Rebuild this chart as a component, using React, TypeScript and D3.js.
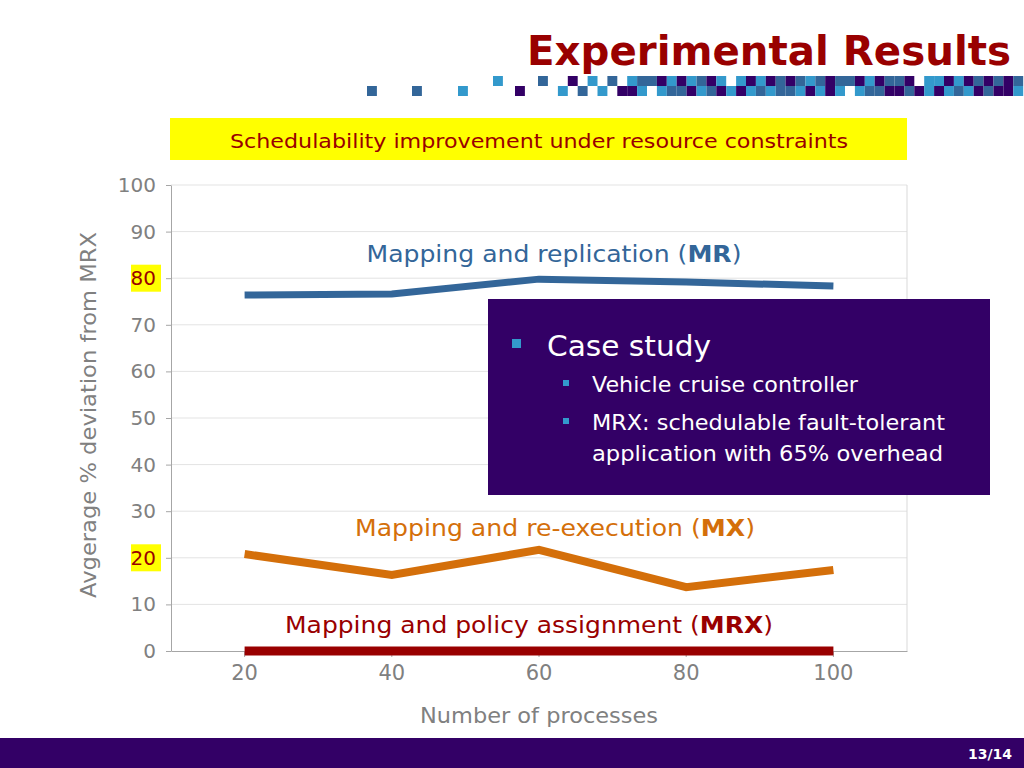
import { useEffect, useRef } from 'react';
import * as d3 from 'd3';

const categories = ['20', '40', '60', '80', '100'];
const mrValues = [76.4, 76.6, 79.8, 79.2, 78.3];
const mxValues = [20.8, 16.3, 21.7, 13.7, 17.4];
const mrxValues = [0, 0, 0, 0, 0];
const yTicks = [0, 10, 20, 30, 40, 50, 60, 70, 80, 90, 100];
const highlightedTicks = [20, 80];

// decorative square strip under the title (a = steel, b = light blue, c = purple)
const stripRow1 = '..c.b.a.baacbcbacb.bcbcacabacaacbcaac.bbcbcacaca';
const stripRow2 = '.b.a.b.ccb.baacbacbcbabaabcbcb.baaccacbcbabcaccb';
const stripColors: Record<string, string> = { a: '#336699', b: '#3399cc', c: '#330066' };

function Chart() {
    const chartRef = useRef<SVGSVGElement>(null);

    useEffect(() => {
        document.body.style.margin = '0';
        drawChart();
    }, []);

    function drawChart() {
        const svg = d3.select(chartRef.current);
        svg.selectAll('*').remove();
        const font = 'DejaVu Sans, Verdana, sans-serif';

        // title
        svg.append('text')
            .attr('x', 527).attr('y', 65)
            .attr('font-family', font).attr('font-weight', 'bold')
            .attr('font-size', 40).attr('fill', '#990000')
            .attr('textLength', 484).attr('lengthAdjust', 'spacingAndGlyphs')
            .text('Experimental Results');

        // square strip
        const sparse = [
            { x: 367, row: 1, c: 'a' }, { x: 412, row: 1, c: 'a' }, { x: 458, row: 1, c: 'b' },
            { x: 493, row: 0, c: 'b' }, { x: 515, row: 1, c: 'c' }, { x: 538, row: 0, c: 'a' },
        ];
        const cells: { x: number; row: number; c: string }[] = [...sparse];
        [stripRow1, stripRow2].forEach((row, r) => {
            row.split('').forEach((c, i) => {
                if (c !== '.') cells.push({ x: 548 + i * 9.9, row: r, c });
            });
        });
        svg.append('g').selectAll('rect').data(cells).enter().append('rect')
            .attr('x', (d) => d.x).attr('y', (d) => 76 + d.row * 10)
            .attr('width', 9.9).attr('height', 10)
            .attr('fill', (d) => stripColors[d.c]);

        // yellow banner
        svg.append('rect').attr('x', 170).attr('y', 118).attr('width', 737).attr('height', 42).attr('fill', '#ffff00');
        svg.append('text')
            .attr('x', 539).attr('y', 148).attr('text-anchor', 'middle')
            .attr('font-family', font).attr('font-size', 20).attr('fill', '#990000')
            .attr('textLength', 618).attr('lengthAdjust', 'spacingAndGlyphs')
            .text('Schedulability improvement under resource constraints');

        const x = d3.scaleBand().domain(categories).range([171, 907]);
        const y = d3.scaleLinear().domain([0, 100]).range([651, 185]);
        const cx = (c: string) => (x(c) as number) + x.bandwidth() / 2;

        // gridlines and border
        svg.append('g').selectAll('line').data(yTicks.slice(1)).enter().append('line')
            .attr('x1', 171).attr('x2', 907)
            .attr('y1', (d) => y(d)).attr('y2', (d) => y(d))
            .attr('stroke', '#e3e3e3').attr('stroke-width', 1);
        svg.append('line').attr('x1', 907).attr('x2', 907).attr('y1', y(100)).attr('y2', y(0))
            .attr('stroke', '#d9d9d9');

        // axes
        const yAxis = svg.append('g')
            .attr('transform', 'translate(171,0)')
            .call(d3.axisLeft(y).tickValues(yTicks).tickSize(5).tickSizeOuter(0).tickPadding(10));
        yAxis.select('.domain').attr('stroke', '#a6a6a6');
        yAxis.selectAll('.tick line').attr('stroke', '#a6a6a6');
        yAxis.selectAll('.tick').each(function (d: any) {
            const g = d3.select(this);
            if (highlightedTicks.includes(d)) {
                g.insert('rect', 'text').attr('x', -40).attr('y', -14).attr('width', 30).attr('height', 27).attr('fill', '#ffff00');
            }
        });
        yAxis.selectAll('.tick text')
            .attr('font-family', font).attr('font-size', 20)
            .attr('fill', (d: any) => (highlightedTicks.includes(d) ? '#990000' : '#808080'));

        const xAxis = svg.append('g')
            .attr('transform', `translate(0,${y(0)})`)
            .call(d3.axisBottom(x).tickSize(6).tickSizeOuter(0).tickPadding(8));
        xAxis.select('.domain').attr('stroke', '#a6a6a6');
        xAxis.selectAll('.tick line').attr('stroke', '#a6a6a6');
        xAxis.selectAll('.tick text')
            .attr('font-family', font).attr('font-size', 21).attr('fill', '#808080');

        // series lines
        const line = d3.line<number>()
            .x((_, i) => cx(categories[i]))
            .y((d) => y(d));
        const series = [
            { values: mrValues, color: '#336699', width: 7 },
            { values: mxValues, color: '#d46f0a', width: 8 },
            { values: mrxValues, color: '#990000', width: 9 },
        ];
        series.forEach((s) => {
            svg.append('path')
                .attr('d', line(s.values) as string)
                .attr('fill', 'none').attr('stroke', s.color)
                .attr('stroke-width', s.width).attr('stroke-linejoin', 'miter');
        });

        // series labels
        const labels = [
            { text: 'Mapping and replication (', bold: 'MR', x: 554, y: 262, color: '#336699', len: 375 },
            { text: 'Mapping and re-execution (', bold: 'MX', x: 555, y: 536, color: '#d46f0a', len: 400 },
            { text: 'Mapping and policy assignment (', bold: 'MRX', x: 529, y: 633, color: '#990000', len: 488 },
        ];
        labels.forEach((l) => {
            const t = svg.append('text')
                .attr('x', l.x).attr('y', l.y).attr('text-anchor', 'middle')
                .attr('font-family', font).attr('font-size', 23).attr('fill', l.color)
                .attr('textLength', l.len).attr('lengthAdjust', 'spacingAndGlyphs');
            t.append('tspan').text(l.text);
            t.append('tspan').attr('font-weight', 'bold').text(l.bold);
            t.append('tspan').text(')');
        });

        // axis titles
        svg.append('text')
            .attr('transform', 'translate(96,415) rotate(-90)')
            .attr('text-anchor', 'middle')
            .attr('font-family', font).attr('font-size', 21).attr('fill', '#808080')
            .attr('textLength', 366).attr('lengthAdjust', 'spacingAndGlyphs')
            .text('Avgerage % deviation from MRX');
        svg.append('text')
            .attr('x', 539).attr('y', 723).attr('text-anchor', 'middle')
            .attr('font-family', font).attr('font-size', 21).attr('fill', '#808080')
            .attr('textLength', 238).attr('lengthAdjust', 'spacingAndGlyphs')
            .text('Number of processes');

        // case study box
        svg.append('rect').attr('x', 488).attr('y', 299).attr('width', 502).attr('height', 196).attr('fill', '#330066');
        svg.append('rect').attr('x', 512).attr('y', 339).attr('width', 9).attr('height', 9).attr('fill', '#3399cc');
        svg.append('text')
            .attr('x', 547).attr('y', 356)
            .attr('font-family', font).attr('font-size', 29).attr('fill', '#ffffff')
            .attr('textLength', 164).attr('lengthAdjust', 'spacingAndGlyphs')
            .text('Case study');
        const bullets = [
            { text: 'Vehicle cruise controller', y: 392, len: 266, mark: true },
            { text: 'MRX: schedulable fault-tolerant', y: 430, len: 353, mark: true },
            { text: 'application with 65% overhead', y: 461, len: 351, mark: false },
        ];
        bullets.forEach((b) => {
            if (b.mark) {
                svg.append('rect').attr('x', 563).attr('y', b.y - 12).attr('width', 6).attr('height', 6).attr('fill', '#3399cc');
            }
            svg.append('text')
                .attr('x', 592).attr('y', b.y)
                .attr('font-family', font).attr('font-size', 21).attr('fill', '#ffffff')
                .attr('textLength', b.len).attr('lengthAdjust', 'spacingAndGlyphs')
                .text(b.text);
        });

        // footer
        svg.append('rect').attr('x', 0).attr('y', 738).attr('width', 1024).attr('height', 30).attr('fill', '#330066');
        svg.append('text')
            .attr('x', 1012).attr('y', 759).attr('text-anchor', 'end')
            .attr('font-family', font).attr('font-weight', 'bold').attr('font-size', 14).attr('fill', '#ffffff')
            .text('13/14');
    }

    return <svg ref={chartRef} width="1024" height="768" style={{ display: 'block', background: '#ffffff' }}></svg>;
}

export default function App() {
    return <Chart />;
}
